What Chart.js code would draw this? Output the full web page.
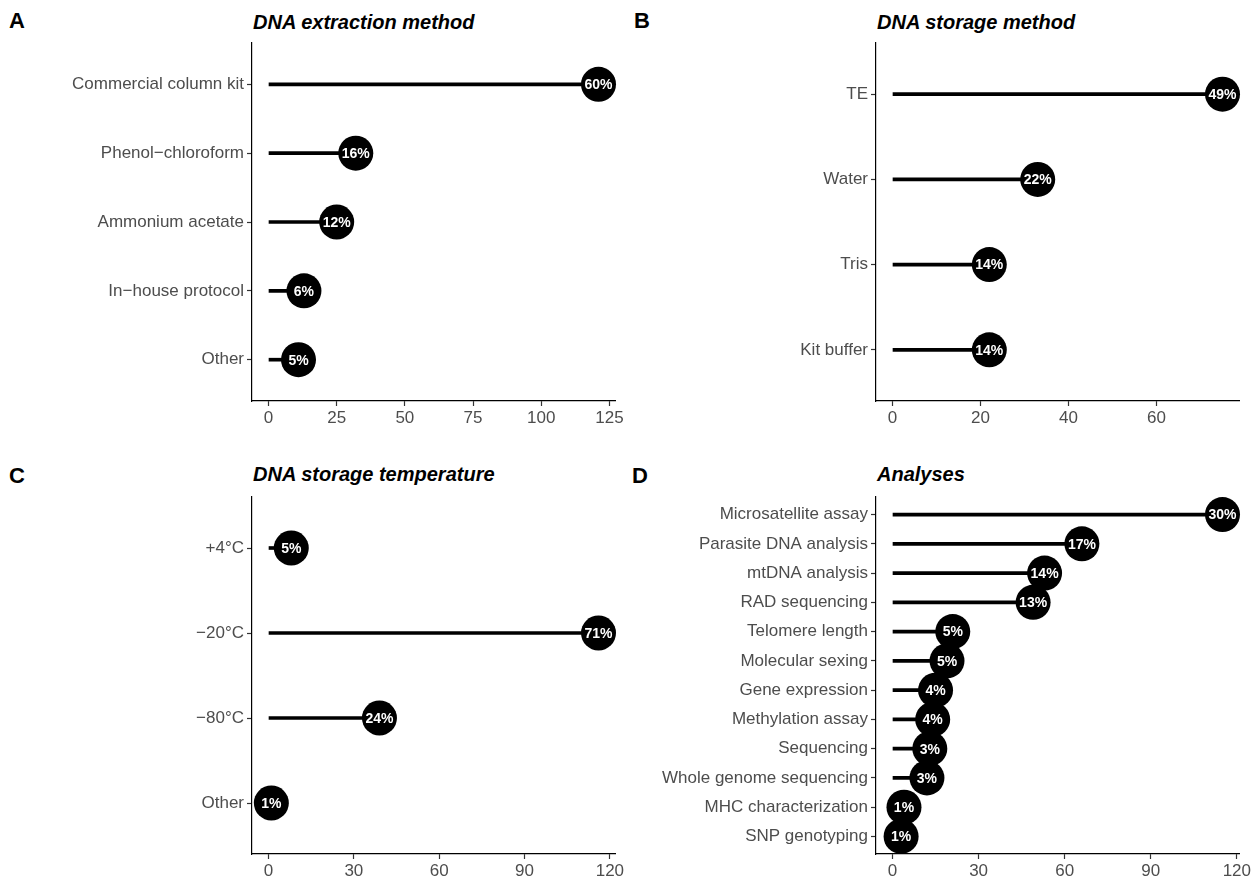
<!DOCTYPE html>
<html lang="en">
<head>
<meta charset="UTF-8">
<title>DNA methods survey</title>
<script src="https://cdn.jsdelivr.net/npm/chart.js@4.4.1/dist/chart.umd.min.js"></script>
<style>
    body {
        margin: 0;
        width: 1258px;
        height: 876px;
        background: #fff;
        position: relative;
        overflow: hidden;
        font-family: 'Liberation Sans', Arial, sans-serif;
    }
    canvas {
        position: absolute;
        display: block;
    }
    .letter {
        position: absolute;
        font-weight: bold;
        font-size: 22px;
        line-height: 22px;
        color: #000;
    }
    .title {
        position: absolute;
        font-weight: bold;
        font-style: italic;
        font-size: 20px;
        line-height: 20px;
        color: #000;
        white-space: nowrap;
    }
</style>
</head>
<body>

<div class="letter" style="left:9px; top:10px;">A</div>
<div class="title" style="left:253px; top:12px;">DNA extraction method</div>
<div class="letter" style="left:634px; top:10px;">B</div>
<div class="title" style="left:877px; top:12px;">DNA storage method</div>
<div class="letter" style="left:9px; top:465px;">C</div>
<div class="title" style="left:253px; top:464px;">DNA storage temperature</div>
<div class="letter" style="left:632px; top:465px;">D</div>
<div class="title" style="left:877px; top:464px;">Analyses</div>

<canvas id="chartA" width="630" height="400" style="left:0px; top:30px;"></canvas>
<canvas id="chartB" width="628" height="400" style="left:630px; top:30px;"></canvas>
<canvas id="chartC" width="630" height="392" style="left:0px; top:484px;"></canvas>
<canvas id="chartD" width="628" height="392" style="left:630px; top:484px;"></canvas>

<script>
// panel A - extraction
var extractionLabels = ['Commercial column kit', 'Phenol\u2212chloroform', 'Ammonium acetate', 'In\u2212house protocol', 'Other'];
var extractionCounts = [121, 32, 25, 13, 11];
var extractionPct = ['60%', '16%', '12%', '6%', '5%'];
var extractionTicks = [0, 25, 50, 75, 100, 125];

// panel B - storage method
var storageLabels = ['TE', 'Water', 'Tris', 'Kit buffer'];
var storageCounts = [75, 33, 22, 22];
var storagePct = ['49%', '22%', '14%', '14%'];
var storageTicks = [0, 20, 40, 60];

// panel C - storage temperature
var tempLabels = ['+4\u00b0C', '\u221220\u00b0C', '\u221280\u00b0C', 'Other'];
var tempCounts = [8, 116, 39, 1];
var tempPct = ['5%', '71%', '24%', '1%'];
var tempTicks = [0, 30, 60, 90, 120];

// panel D - analyses
var analysisLabels = ['Microsatellite assay', 'Parasite DNA analysis', 'mtDNA analysis', 'RAD sequencing',
    'Telomere length', 'Molecular sexing', 'Gene expression', 'Methylation assay', 'Sequencing',
    'Whole genome sequencing', 'MHC characterization', 'SNP genotyping'];
var analysisCounts = [115, 66, 53, 49, 21, 19, 15, 14, 13, 12, 4, 3];
var analysisPct = ['30%', '17%', '14%', '13%', '5%', '5%', '4%', '4%', '3%', '3%', '1%', '1%'];
var analysisTicks = [0, 30, 60, 90, 120];

var FONT = "'Liberation Sans', Arial, sans-serif";

// white percent text on top of the circles
var pctLabelPlugin = {
    id: 'pctLabels',
    afterDatasetsDraw: function (chart) {
        var pcts = chart.options.plugins.pctLabels.values;
        var meta = chart.getDatasetMeta(1);
        var ctx = chart.ctx;
        ctx.save();
        ctx.fillStyle = '#fff';
        ctx.font = 'bold 14px ' + FONT;
        ctx.textAlign = 'center';
        ctx.textBaseline = 'middle';
        meta.data.forEach(function (pt, i) {
            ctx.fillText(pcts[i], pt.x, pt.y + 1);
        });
        ctx.restore();
    }
};

function makeLollipop(id, labels, counts, pcts, ticks, box) {
    var maxVal = Math.max.apply(null, counts);
    var segs = counts.map(function (v, i) { return { x: v, y: i }; });
    var dots = counts.map(function (v, i) { return { x: v, y: i }; });

    return new Chart(document.getElementById(id), {
        type: 'bar',
        data: {
            datasets: [{
                data: segs,
                backgroundColor: '#000',
                borderWidth: 0,
                barThickness: 3,
                order: 2
            }, {
                type: 'scatter',
                data: dots,
                backgroundColor: '#000',
                borderWidth: 0,
                pointRadius: 17.5,
                clip: false,
                order: 1
            }]
        },
        options: {
            indexAxis: 'y',
            responsive: false,
            animation: false,
            devicePixelRatio: 1,
            events: [],
            layout: {
                autoPadding: false,
                padding: { top: box.top, right: box.right, left: 0, bottom: 0 }
            },
            plugins: {
                legend: { display: false },
                tooltip: { enabled: false },
                pctLabels: { values: pcts }
            },
            scales: {
                x: {
                    type: 'linear',
                    offset: false,
                    min: -0.05 * maxVal,
                    max: 1.05 * maxVal,
                    afterBuildTicks: function (s) {
                        s.ticks = ticks.map(function (v) { return { value: v }; });
                    },
                    afterFit: function (s) {
                        s.height = box.bottom;
                        s.paddingLeft = 0;
                        s.paddingRight = 0;
                    },
                    border: { display: true, color: '#000', width: 1.2 },
                    grid: { display: true, offset: false, drawOnChartArea: false, drawTicks: true, tickLength: 5, tickColor: '#333', tickWidth: 1.2 },
                    ticks: { color: '#4d4d4d', padding: 2, maxRotation: 0, autoSkip: false, font: { family: FONT, size: 17 } }
                },
                y: {
                    type: 'linear',
                    offset: false,
                    reverse: true,
                    min: -0.6,
                    max: labels.length - 1 + 0.6,
                    afterBuildTicks: function (s) {
                        s.ticks = labels.map(function (l, i) { return { value: i }; });
                    },
                    afterFit: function (s) {
                        s.width = box.left;
                        s.paddingTop = 0;
                        s.paddingBottom = 0;
                    },
                    border: { display: true, color: '#000', width: 1.2 },
                    grid: { display: true, offset: false, drawOnChartArea: false, drawTicks: true, tickLength: 5, tickColor: '#333', tickWidth: 1.2 },
                    ticks: {
                        color: '#4d4d4d',
                        padding: 3,
                        autoSkip: false,
                        font: { family: FONT, size: 17 },
                        callback: function (v) { return labels[v]; }
                    }
                }
            }
        },
        plugins: [pctLabelPlugin]
    });
}

makeLollipop('chartA', extractionLabels, extractionCounts, extractionPct, extractionTicks,
    { left: 252, right: 15, top: 13, bottom: 29 });
makeLollipop('chartB', storageLabels, storageCounts, storagePct, storageTicks,
    { left: 246, right: 19, top: 13, bottom: 29 });
makeLollipop('chartC', tempLabels, tempCounts, tempPct, tempTicks,
    { left: 252, right: 15, top: 13, bottom: 22 });
makeLollipop('chartD', analysisLabels, analysisCounts, analysisPct, analysisTicks,
    { left: 246, right: 19, top: 13, bottom: 22 });
</script>
</body>
</html>
